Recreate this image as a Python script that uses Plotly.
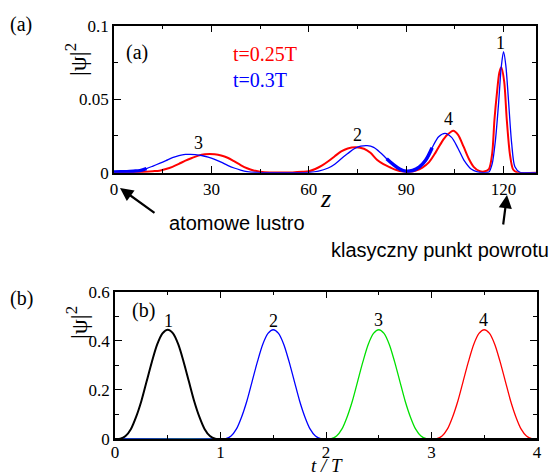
import plotly.graph_objects as go

# ---------------- data: panel (a) ----------------
z_red = [0, 4, 8, 12, 14, 16, 18, 20, 22, 24, 26, 28, 29.5, 31, 33, 35, 37, 39, 41, 43, 45, 48, 52, 55,
         58, 60, 62, 64, 66, 68, 70, 72, 74.5, 77, 79, 81, 83, 85, 87, 89, 91, 93, 95, 97, 99, 101,
         102.6, 104.5, 106, 107.7, 109.3, 110.8, 112.5, 114, 115.5, 116.5, 117.2, 118, 118.7, 119.3,
         120.2, 121, 122, 123, 124.5, 130]
psi_red = [0, 0.0001, 0.0004, 0.001, 0.0014, 0.0025, 0.004, 0.006, 0.0082, 0.01, 0.0116, 0.0125, 0.0127,
           0.0125, 0.0117, 0.0102, 0.0078, 0.0052, 0.003, 0.0015, 0.0007, 0.0002, 0.0001, 0.0002,
           0.0006, 0.001, 0.0025, 0.0048, 0.0078, 0.0112, 0.0145, 0.0165, 0.0173, 0.0163, 0.0135,
           0.0088, 0.0058, 0.0037, 0.0018, 0.0008, 0.0006, 0.0015, 0.0035, 0.007, 0.0135, 0.021,
           0.0256, 0.0286, 0.0258, 0.0177, 0.0095, 0.004, 0.0012, 0.0008, 0.0025, 0.013, 0.036,
           0.055, 0.068, 0.0717, 0.062, 0.036, 0.012, 0.002, 0, 0]

z_blue = [0, 2, 4, 6, 8, 10, 12, 14, 16, 18, 20, 22, 23.5, 25, 27, 29, 31, 33, 35, 37, 39, 41, 44, 48,
          52, 56, 60, 63, 66, 68, 70, 72, 74, 76, 78, 80, 82, 84, 86, 88, 90, 92, 94, 96, 98, 100, 102,
          104, 106, 108, 110, 112, 114, 115.5, 116.5, 117.5, 118.5, 119.3, 120, 120.7, 121.5, 122.5,
          123.5, 125, 127, 130]
psi_blue = [0.0005, 0.0006, 0.0007, 0.001, 0.0014, 0.0028, 0.0045, 0.0063, 0.0082, 0.0102, 0.0116,
            0.0124, 0.0125, 0.0123, 0.0117, 0.0106, 0.0091, 0.0072, 0.005, 0.0032, 0.0018, 0.0008,
            0.0002, 0, 0, 0, 0.0002, 0.001, 0.0032, 0.0058, 0.0095, 0.013, 0.0163, 0.018, 0.0184,
            0.0172, 0.0138, 0.0095, 0.0056, 0.0025, 0.001, 0.0015, 0.0038, 0.0085, 0.017, 0.0245,
            0.0268, 0.024, 0.0165, 0.0078, 0.0025, 0.0005, 0.0001, 0.0005, 0.006, 0.022, 0.048,
            0.072, 0.0823, 0.073, 0.05, 0.02, 0.004, 0.0003, 0, 0]

legend_a = ["t=0.25T", "t=0.3T"]
peak_labels_a = ["3", "2", "4", "1"]

# ---------------- data: panel (b) ----------------
t1 = [0, 0.05, 0.1, 0.15, 0.2, 0.25, 0.3, 0.35, 0.4, 0.45, 0.5, 0.55, 0.6, 0.65, 0.7, 0.75, 0.8, 0.85, 0.9, 0.95, 1.0, 4.0]
p1 = [0, 0.001, 0.012, 0.04, 0.09, 0.155, 0.235, 0.315, 0.385, 0.43, 0.445, 0.43, 0.385, 0.315, 0.235, 0.155, 0.09, 0.04, 0.012, 0.001, 0, 0]
t2 = [0, 1.0, 1.05, 1.1, 1.15, 1.2, 1.25, 1.3, 1.35, 1.4, 1.45, 1.5, 1.55, 1.6, 1.65, 1.7, 1.75, 1.8, 1.85, 1.9, 1.95, 2.0, 4.0]
p2 = [0, 0, 0.001, 0.012, 0.04, 0.09, 0.155, 0.235, 0.315, 0.385, 0.43, 0.445, 0.43, 0.385, 0.315, 0.235, 0.155, 0.09, 0.04, 0.012, 0.001, 0, 0]
t3 = [0, 2.0, 2.05, 2.1, 2.15, 2.2, 2.25, 2.3, 2.35, 2.4, 2.45, 2.5, 2.55, 2.6, 2.65, 2.7, 2.75, 2.8, 2.85, 2.9, 2.95, 3.0, 4.0]
p3 = [0, 0, 0.001, 0.012, 0.04, 0.09, 0.155, 0.235, 0.315, 0.385, 0.43, 0.445, 0.43, 0.385, 0.315, 0.235, 0.155, 0.09, 0.04, 0.012, 0.001, 0, 0]
t4 = [0, 3.0, 3.05, 3.1, 3.15, 3.2, 3.25, 3.3, 3.35, 3.4, 3.45, 3.5, 3.55, 3.6, 3.65, 3.7, 3.75, 3.8, 3.85, 3.9, 3.95, 4.0]
p4 = [0, 0, 0.001, 0.012, 0.04, 0.09, 0.155, 0.235, 0.315, 0.385, 0.43, 0.445, 0.43, 0.385, 0.315, 0.235, 0.155, 0.09, 0.04, 0.012, 0.001, 0]
peak_labels_b = ["1", "2", "3", "4"]

W, H = 558, 475
def px(x):
    return x / W
def py(y):
    return 1 - y / H

SERIF = "Liberation Serif, Times New Roman, serif"
SANS = "Liberation Sans, Arial, sans-serif"

fig = go.Figure()

# panel (a)
fig.add_trace(go.Scatter(x=z_red, y=psi_red, mode="lines", line=dict(color="#ff0000", width=2, shape="spline", smoothing=0.8),
                         xaxis="x", yaxis="y", showlegend=False))
fig.add_trace(go.Scatter(x=z_blue, y=psi_blue, mode="lines", line=dict(color="#0000ff", width=1.3, shape="spline", smoothing=0.8),
                         xaxis="x", yaxis="y", showlegend=False))
# fuzzy thick blue segments (numerical noise regions)
fig.add_trace(go.Scatter(x=z_blue[0:6], y=psi_blue[0:6], mode="lines", line=dict(color="#0000ff", width=3.5, shape="spline"),
                         xaxis="x", yaxis="y", showlegend=False))
fig.add_trace(go.Scatter(x=z_blue[37:45], y=psi_blue[37:45], mode="lines", line=dict(color="#0000ff", width=3.5, shape="spline"),
                         xaxis="x", yaxis="y", showlegend=False))

# panel (b)
for tt, pp, col, w in [(t4, p4, "#ff0000", 1.3), (t3, p3, "#00e000", 1.3), (t2, p2, "#0000ff", 1.3), (t1, p1, "#000000", 2)]:
    fig.add_trace(go.Scatter(x=tt, y=pp, mode="lines", line=dict(color=col, width=w, shape="spline", smoothing=0.8),
                             xaxis="x2", yaxis="y2", showlegend=False))

axis_common = dict(showline=True, linecolor="black", linewidth=1.5, mirror="ticks", ticks="inside",
                   ticklen=7, tickwidth=1.2, tickcolor="black", showgrid=False, zeroline=False,
                   automargin=False, fixedrange=True,
                   tickfont=dict(family=SERIF, size=17, color="black"))

fig.update_layout(
    width=W, height=H, margin=dict(l=0, r=0, t=0, b=0, pad=0, autoexpand=False),
    paper_bgcolor="white", plot_bgcolor="white",
    font=dict(family=SERIF, color="black"),
    xaxis=dict(domain=[px(114), px(536)], range=[0, 130], anchor="y", tickvals=[0, 30, 60, 90, 120],
               ticktext=["0", "30", "60", "90", "120"],
               minor=dict(tickvals=[15, 45, 75, 105], ticks="inside", ticklen=4, tickcolor="black"), **axis_common),
    yaxis=dict(domain=[py(172.7), py(25.7)], range=[0, 0.1], anchor="x", tickvals=[0, 0.05, 0.1],
               ticktext=["0", "0.05", "0.1"],
               minor=dict(tickvals=[0.025, 0.075], ticks="inside", ticklen=4, tickcolor="black"), **axis_common),
    xaxis2=dict(domain=[px(115), px(537)], range=[0, 4], anchor="y2", tickvals=[0, 1, 2, 3, 4],
                ticklabelstandoff=-3,
                minor=dict(tickvals=[0.5, 1.5, 2.5, 3.5], ticks="inside", ticklen=4, tickcolor="black"), **axis_common),
    yaxis2=dict(domain=[py(439), py(291.7)], range=[0, 0.6], anchor="x2", tickvals=[0, 0.2, 0.4, 0.6],
                ticktext=["0", "0.2", "0.4", "0.6"],
                minor=dict(tickvals=[0.1, 0.3, 0.5], ticks="inside", ticklen=4, tickcolor="black"), **axis_common),
)

ann = []
def text(x, y, s, size=20, color="black", family=SERIF, xanchor="center", angle=0):
    ann.append(dict(x=px(x), y=py(y), xref="paper", yref="paper", text=s, showarrow=False,
                    font=dict(family=family, size=size, color=color), xanchor=xanchor, yanchor="middle",
                    textangle=angle))

# outer panel letters
text(21, 25, "(a)")
text(21, 298, "(b)")
# inner panel letters
text(137, 53, "(a)")
text(143, 310, "(b)")
# legend of panel (a)
text(231, 54, legend_a[0], color="#ff0000", xanchor="left")
text(231, 80, legend_a[1], color="#0000ff", xanchor="left")
# y-axis titles
text(76, 60, "|ψ|<sup>2</sup>", size=24, angle=-90)
text(77, 323, "|ψ|<sup>2</sup>", size=24, angle=-90)
# x-axis titles
text(325, 198, "<i>z</i>", size=26)
text(327, 465, "<i>t / T</i>", size=19)
# peak numbers (a)
for s, (x, y) in zip(peak_labels_a, [(198, 143), (357, 135), (448, 119), (500, 43)]):
    text(x, y, s, size=18)
# peak numbers (b)
for s, (x, y) in zip(peak_labels_b, [(168, 321), (273, 321), (378, 320), (483, 320)]):
    text(x, y, s, size=18)
# arrow texts
text(237, 223, "atomowe lustro", size=20, family=SANS)
text(440, 250, "klasyczny punkt powrotu", size=20, family=SANS)

# arrows
for (hx, hy, tx, ty) in [(120, 188, 156, 214), (507, 195, 503, 226)]:
    ann.append(dict(x=px(hx), y=py(hy), xref="paper", yref="paper", ax=tx - hx, ay=ty - hy,
                    axref="pixel", ayref="pixel", text="", showarrow=True, arrowhead=2,
                    arrowsize=1.2, arrowwidth=2.2, arrowcolor="black"))

fig.update_layout(annotations=ann)
fig.write_html("out.html", config={"displayModeBar": False},
               post_script="document.body.style.margin='0';")
